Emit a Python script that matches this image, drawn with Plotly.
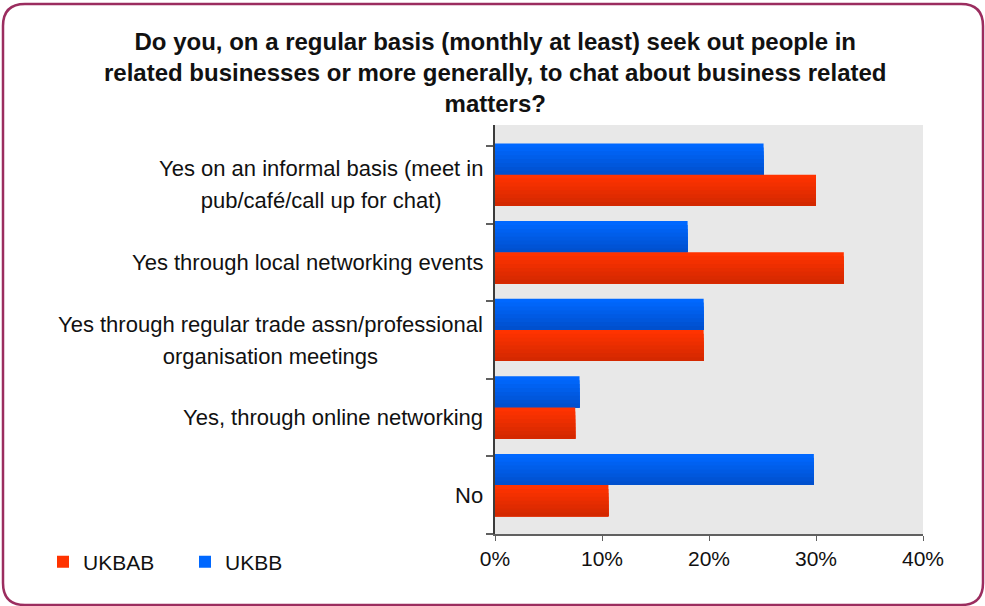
import plotly.graph_objects as go

# ---- data -------------------------------------------------------------
categories = [
    "Yes on an informal basis (meet in<br>pub/café/call up for chat)",
    "Yes through local networking events",
    "Yes through regular trade assn/professional<br>organisation meetings",
    "Yes, through online networking",
    "No",
]
ukbab = [30.0, 32.6, 19.5, 7.5, 10.6]   # red series
ukbb = [25.1, 18.0, 19.5, 7.9, 29.8]    # blue series
x_ticks = [0, 10, 20, 30, 40]
x_tick_labels = ["0%", "10%", "20%", "30%", "40%"]
title_text = ("Do you, on a regular basis (monthly at least) seek out people in<br>"
              "related businesses or more generally, to chat about business related<br>"
              "matters?")

# ---- layout geometry (pixels) ----------------------------------------
W, H = 985, 606
PL, PR, PT, PB = 495, 923, 125, 534
PW, PH = PR - PL, PB - PT

def px_x(x):
    return (x - PL) / PW

def px_y(y):
    return (PB - y) / PH

BAR_W = 0.402        # height of one bar in category units
BAND_SHIFT = 0.13    # category bands sit a little below each bar pair
N_STRIPES = 8        # vertical shading steps inside each bar

pos = list(range(len(categories)))

def blend(c0, c1, t):
    return "rgb({},{},{})".format(*[round(a + (b - a) * t) for a, b in zip(c0, c1)])

fig = go.Figure()

def add_series(name, values, top_rgb, bottom_rgb, start, rank):
    # each stripe starts lower and reaches the bar bottom, giving a top-to-bottom shade
    for k in range(N_STRIPES):
        frac = k / N_STRIPES
        fig.add_trace(go.Bar(
            y=pos, x=values, orientation="h",
            offset=start + frac * BAR_W, width=BAR_W * (1 - frac),
            marker=dict(color=blend(top_rgb, bottom_rgb, k / (N_STRIPES - 1)),
                        line=dict(width=0)),
            name=name, legendgroup=name, showlegend=(k == 0), legendrank=rank,
            hovertemplate=name + ": %{x}%<extra></extra>",
        ))

add_series("UKBB", ukbb, (0, 104, 255), (0, 80, 206), -BAR_W, 2)
add_series("UKBAB", ukbab, (255, 51, 0), (212, 40, 0), 0.0, 1)

# category labels, centred lines, right-aligned block beside the axis
label_font = 22
for i, lab in enumerate(categories):
    lines = lab.split("<br>")
    txt = "<br>".join('<span style="font-size:%.1fpx">%s</span>' % (label_font, s) for s in lines)
    fig.add_annotation(
        x=0, xref="paper", xshift=-10, xanchor="right",
        y=i + BAND_SHIFT, yref="y", yanchor="middle",
        text=txt, showarrow=False, align="center",
        font=dict(family="Liberation Sans, Arial, sans-serif", size=32 / 1.3, color="#111111"),
    )

# title
fig.add_annotation(
    x=px_x(495), xref="paper", xanchor="center",
    y=px_y(72), yref="paper", yanchor="middle",
    text="<b>" + title_text + "</b>", showarrow=False, align="center",
    font=dict(family="Liberation Sans, Arial, sans-serif", size=24, color="#111111"),
)

# rounded outer frame
fl, fr, ft, fb, r = 3, 983, 4, 605, 22
def P(x, y):
    return "%.5f,%.5f" % (px_x(x), px_y(y))
frame = ("M" + P(fl + r, ft) + " L" + P(fr - r, ft) + " Q" + P(fr, ft) + " " + P(fr, ft + r)
         + " L" + P(fr, fb - r) + " Q" + P(fr, fb) + " " + P(fr - r, fb)
         + " L" + P(fl + r, fb) + " Q" + P(fl, fb) + " " + P(fl, fb - r)
         + " L" + P(fl, ft + r) + " Q" + P(fl, ft) + " " + P(fl + r, ft) + " Z")
fig.add_shape(type="path", path=frame, xref="paper", yref="paper",
              line=dict(color="#9B2D5F", width=2.5), layer="above")

band_edges = [i - 0.5 + BAND_SHIFT for i in range(len(categories) + 1)]
band_px = (PB - 146) / len(categories)
y_top = band_edges[-1] - PH / band_px

fig.update_layout(
    width=W, height=H,
    margin=dict(l=PL, r=W - PR, t=PT, b=H - PB, pad=0),
    paper_bgcolor="white", plot_bgcolor="#E8E8E8",
    barmode="overlay",
    font=dict(family="Liberation Sans, Arial, sans-serif", size=21, color="#111111"),
    showlegend=True,
    legend=dict(orientation="h", x=px_x(43), xanchor="left", y=px_y(562), yanchor="middle",
                font=dict(size=21), entrywidth=97, entrywidthmode="pixels",
                bgcolor="rgba(0,0,0,0)", traceorder="normal"),
    xaxis=dict(range=[0, 40], tickvals=x_ticks, ticktext=x_tick_labels,
               showgrid=False, zeroline=False, showline=True, linecolor="#606060", linewidth=1.5,
               ticks="outside", ticklen=5, tickcolor="#606060", tickwidth=1,
               ticklabelstandoff=0, fixedrange=True),
    yaxis=dict(range=[band_edges[-1], y_top], tickmode="array", tickvals=band_edges,
               showticklabels=False, showgrid=False, zeroline=False,
               showline=True, linecolor="#3C3C3C", linewidth=2,
               ticks="outside", ticklen=7, tickcolor="#606060", tickwidth=1.5, fixedrange=True),
)

fig.write_html("out.html")
